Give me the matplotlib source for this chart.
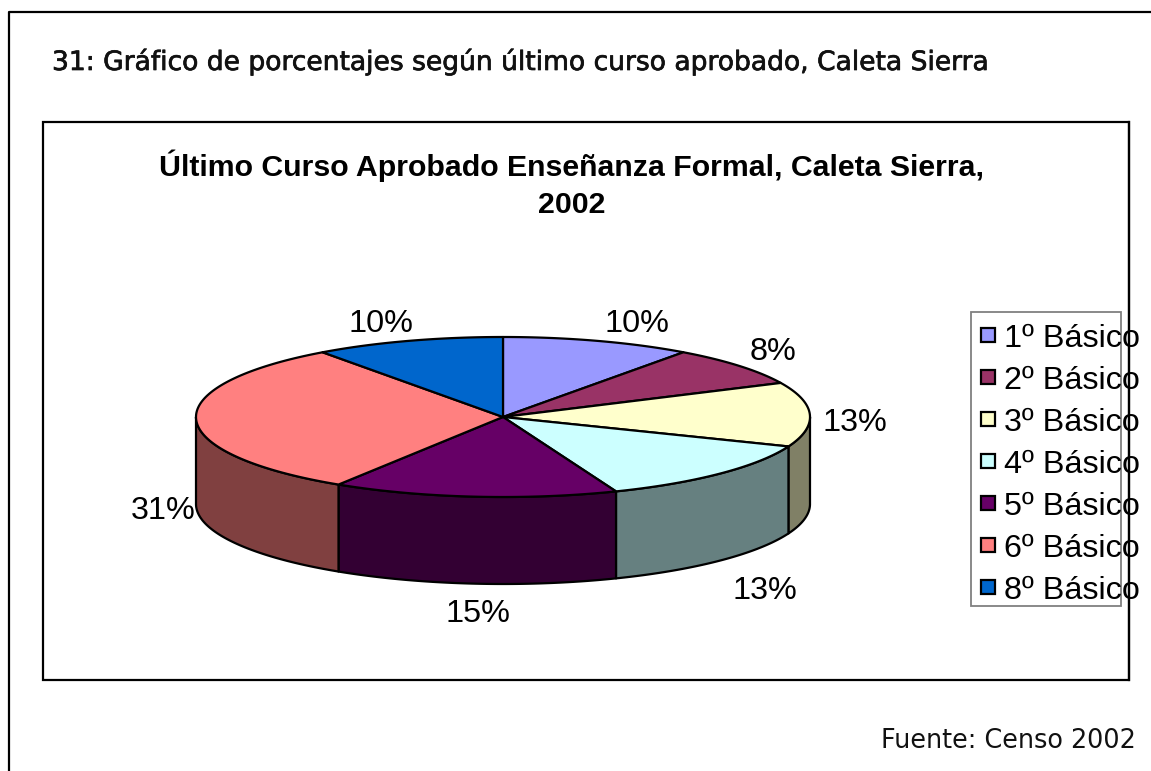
import numpy as np
import matplotlib
matplotlib.use('Agg')
import matplotlib.pyplot as plt
import matplotlib.patheffects as pe
from matplotlib.patches import Polygon, Rectangle

#--- data
labels = ['1º Básico', '2º Básico', '3º Básico', '4º Básico', '5º Básico', '6º Básico', '8º Básico']
values = [10, 8, 13, 13, 15, 31, 10]
pct_text = ['10%', '8%', '13%', '13%', '15%', '31%', '10%']
colors = ['#9999FF', '#993366', '#FFFFCC', '#CCFFFF', '#660066', '#FF8080', '#0066CC']
side_colors = ['#4D4D80', '#4D1A33', '#808066', '#668080', '#330033', '#804040', '#003366']
pct_xy = [(637, 324), (773, 352), (855, 423), (765, 591), (478, 614), (163, 511), (381, 324)]

W, H = 1151, 771
fig = plt.figure(figsize=(W / 100, H / 100), dpi=100)
ax = fig.add_axes([0, 0, 1, 1])
ax.set_xlim(0, W)
ax.set_ylim(H, 0)
ax.axis('off')

# pie geometry in pixels
cx, cy, rx, ry, depth = 503, 417, 307, 80, 87


def ell(t):
    t = np.radians(t)
    return cx + rx * np.sin(t), cy - ry * np.cos(t)


#--- outer box and chart box
ax.plot([9, 9, W + 5], [H + 5, 11.5, 11.5], color='k', lw=1.6, zorder=1)
ax.add_patch(Rectangle((43, 122), 1086, 558, fc='white', ec='k', lw=1.6, zorder=1))

head = ax.text(52, 62, '31: Gráfico de porcentajes según último curso aprobado, Caleta Sierra',
               family='DejaVu Sans', fontsize=19.1, va='center', ha='left', color='#111111')
head.set_path_effects([pe.withStroke(linewidth=0.5, foreground='#111111')])
ax.text(1136, 741, 'Fuente: Censo 2002', family='DejaVu Sans', fontsize=18.4, va='center', ha='right',
        color='#111111')
ax.text(572, 184, 'Último Curso Aprobado Enseñanza Formal, Caleta Sierra,\n2002',
        family='Liberation Sans', fontweight='bold', fontsize=21.8, va='center', ha='center',
        linespacing=1.4, zorder=5)

#--- pie
bounds = np.cumsum([0] + values) * 3.6
for i in range(len(values)):
    t0, t1 = bounds[i], bounds[i + 1]
    # side wall, only the front half shows
    a, b = max(t0, 90), min(t1, 270)
    if a < b:
        ts = np.linspace(a, b, 80)
        x, y = ell(ts)
        xy = np.r_[np.c_[x, y], np.c_[x[::-1], y[::-1] + depth]]
        ax.add_patch(Polygon(xy, fc=side_colors[i], ec='k', lw=1.6, zorder=2, joinstyle='round'))
for i in range(len(values)):
    ts = np.linspace(bounds[i], bounds[i + 1], 100)
    x, y = ell(ts)
    xy = np.r_[[[cx, cy]], np.c_[x, y]]
    ax.add_patch(Polygon(xy, fc=colors[i], ec='k', lw=1.6, zorder=3, joinstyle='round'))
    ax.text(pct_xy[i][0], pct_xy[i][1], pct_text[i], family='Liberation Sans', fontsize=23.3,
            ha='center', va='center', zorder=5)

#--- legend
ax.add_patch(Rectangle((971, 312), 150, 294, fc='white', ec='#808080', lw=1.3, zorder=4))
for i in range(len(labels)):
    yy = 335 + i * 42
    ax.add_patch(Rectangle((981.5, yy - 7), 14, 14, fc=colors[i], ec='k', lw=1.6, zorder=6))
    ax.text(1004, yy + 4, labels[i], family='Liberation Sans', fontsize=23.3, va='center', ha='left', zorder=6)
ax.plot([1129, 1129], [122, 680], color='k', lw=1.6, zorder=5)

fig.savefig('out.png', dpi=100)
